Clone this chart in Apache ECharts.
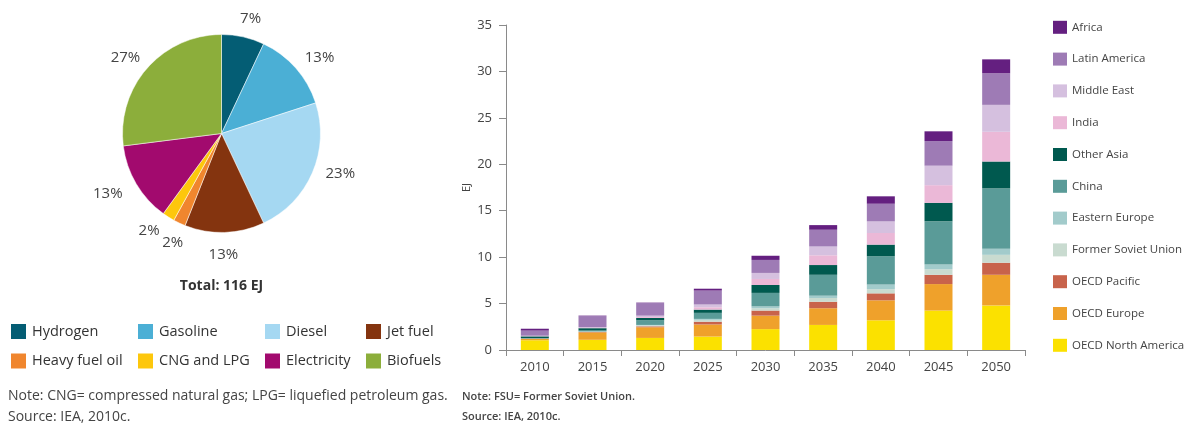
<!DOCTYPE html>
<html>
<head>
<meta charset="utf-8">
<script src="https://cdn.jsdelivr.net/npm/echarts@6/dist/echarts.min.js"></script>
<style>
  html, body { margin: 0; padding: 0; background: #ffffff; }
  #chart { width: 1195px; height: 426px; }
</style>
</head>
<body>
<div id="chart"></div>
<script>
// ---------- Data: left pie (share of transport fuel, 2050) ----------
const fuels = ['Hydrogen', 'Gasoline', 'Diesel', 'Jet fuel', 'Heavy fuel oil', 'CNG and LPG', 'Electricity', 'Biofuels'];
const fuelShares = [7, 13, 23, 13, 2, 2, 13, 27];
const pieTotalLabel = 'Total: 116 EJ';

// ---------- Data: right stacked bars (EJ) ----------
const years = ['2010', '2015', '2020', '2025', '2030', '2035', '2040', '2045', '2050'];
const oecdNorthAmerica  = [1.05, 1.10, 1.30, 1.45, 2.25, 2.70, 3.20, 4.25, 4.80];
const oecdEurope        = [0.15, 0.80, 1.15, 1.30, 1.45, 1.80, 2.15, 2.85, 3.30];
const oecdPacific       = [0.02, 0.05, 0.10, 0.30, 0.55, 0.70, 0.75, 1.00, 1.30];
const formerSovietUnion = [0.01, 0.03, 0.10, 0.20, 0.25, 0.40, 0.45, 0.60, 0.85];
const easternEurope     = [0.01, 0.02, 0.05, 0.10, 0.20, 0.25, 0.50, 0.50, 0.65];
const china             = [0.03, 0.10, 0.50, 0.65, 1.45, 2.25, 3.05, 4.65, 6.50];
const otherAsia         = [0.20, 0.25, 0.25, 0.35, 0.85, 1.05, 1.25, 2.00, 2.90];
const india             = [0.03, 0.05, 0.10, 0.25, 0.65, 1.05, 1.25, 1.90, 3.20];
const middleEast        = [0.04, 0.05, 0.15, 0.30, 0.65, 0.95, 1.25, 2.10, 2.90];
const latinAmerica      = [0.55, 1.20, 1.35, 1.50, 1.40, 1.80, 1.90, 2.65, 3.40];
const africa            = [0.20, 0.05, 0.05, 0.20, 0.45, 0.50, 0.80, 1.05, 1.50];
const yTickLabels = ['0', '5', '10', '15', '20', '25', '30', '35'];

const regionNames = ['OECD North America', 'OECD Europe', 'OECD Pacific', 'Former Soviet Union', 'Eastern Europe',
  'China', 'Other Asia', 'India', 'Middle East', 'Latin America', 'Africa'];
const regionValues = [oecdNorthAmerica, oecdEurope, oecdPacific, formerSovietUnion, easternEurope,
  china, otherAsia, india, middleEast, latinAmerica, africa];

// ---------- Styles ----------
const fuelColors = ['#045d74', '#4bafd5', '#a5d8f2', '#84340f', '#f0862e', '#fdc70c', '#a20a6e', '#8cae3b'];
const regionColors = ['#fbe100', '#efa12b', '#c8634b', '#c9dbd0', '#a2cbcb',
  '#5a9b98', '#00594f', '#ebb8d7', '#d5c0df', '#9e7bb5', '#641f80'];
const pieLabelNudge = [[2, 6], [5, 6], [5, -9], [-2, -3], [4, -3], [-6, -7], [-7, -3], [-3, 6]];
const FONT = 'Open Sans';
const axisGrey = '#8a8a8a';

const chart = echarts.init(document.getElementById('chart'), null, { renderer: 'canvas' });

const pieLegendCols = [
  { left: 9,   names: [fuels[0], fuels[4]] },
  { left: 136, names: [fuels[1], fuels[5]] },
  { left: 263, names: [fuels[2], fuels[6]] },
  { left: 364, names: [fuels[3], fuels[7]] }
];

const legends = pieLegendCols.map(col => ({
  orient: 'vertical',
  left: col.left,
  top: 322,
  padding: 0,
  icon: 'rect',
  itemWidth: 17,
  itemHeight: 17,
  itemGap: 10.6,
  selectedMode: false,
  data: col.names,
  textStyle: { fontFamily: FONT, fontSize: 14.5, color: '#333' }
}));

legends.push({
  orient: 'vertical',
  left: 1053,
  top: 20.8,
  padding: 0,
  icon: 'rect',
  itemWidth: 14,
  itemHeight: 13,
  itemGap: 18.8,
  selectedMode: false,
  data: regionNames.slice().reverse(),
  textStyle: { fontFamily: FONT, fontSize: 11.5, color: '#444' }
});

const barSeries = regionNames.map((name, i) => ({
  name: name,
  type: 'bar',
  stack: 'total',
  barWidth: 28,
  data: regionValues[i],
  itemStyle: { color: regionColors[i] },
  emphasis: { disabled: true }
}));

const option = {
  animation: false,
  textStyle: { fontFamily: FONT },
  title: [
    { text: pieTotalLabel, left: 221.5, top: 279, textAlign: 'center', padding: 0,
      textStyle: { fontFamily: FONT, fontSize: 14, fontWeight: 'bold', color: '#333' } },
    { text: 'Note: CNG= compressed natural gas; LPG= liquefied petroleum gas.', left: 8, top: 389.5, padding: 0,
      textStyle: { fontFamily: FONT, fontSize: 14, fontWeight: 'normal', color: '#444' } },
    { text: 'Source: IEA, 2010c.', left: 8, top: 410, padding: 0,
      textStyle: { fontFamily: FONT, fontSize: 14, fontWeight: 'normal', color: '#444' } },
    { text: 'Note: FSU= Former Soviet Union.', left: 462, top: 391, padding: 0,
      textStyle: { fontFamily: FONT, fontSize: 11, fontWeight: 600, color: '#444' } },
    { text: 'Source: IEA, 2010c.', left: 462, top: 411, padding: 0,
      textStyle: { fontFamily: FONT, fontSize: 11, fontWeight: 600, color: '#444' } }
  ],
  legend: legends,
  grid: { left: 506, right: 170, top: 25, bottom: 76, containLabel: false },
  xAxis: {
    type: 'category',
    data: years,
    axisLine: { show: true, lineStyle: { color: axisGrey, width: 1 } },
    axisTick: { show: true, length: 6, lineStyle: { color: axisGrey } },
    axisLabel: { fontFamily: FONT, fontSize: 13, color: '#444', margin: 11 },
    splitLine: { show: false }
  },
  yAxis: {
    type: 'value',
    min: 0,
    max: 35,
    interval: 5,
    name: 'EJ',
    nameLocation: 'middle',
    nameGap: 34,
    nameTextStyle: { fontFamily: FONT, fontSize: 11, color: '#444' },
    axisLine: { show: true, lineStyle: { color: axisGrey, width: 1 } },
    axisTick: { show: true, length: 7, lineStyle: { color: axisGrey } },
    axisLabel: {
      fontFamily: FONT, fontSize: 13, color: '#444', margin: 14,
      formatter: v => yTickLabels[Math.round(v / 5)] ?? String(v)
    },
    splitLine: { show: false }
  },
  series: [
    {
      name: 'fuels',
      type: 'pie',
      center: [221.5, 133.5],
      radius: [0, 99],
      startAngle: 90,
      clockwise: true,
      silent: true,
      label: { show: false },
      labelLine: { show: false },
      itemStyle: { borderColor: '#ffffff', borderWidth: 0.5 },
      data: fuels.map((n, i) => ({ name: n, value: fuelShares[i], itemStyle: { color: fuelColors[i] } }))
    },
    {
      name: 'fuelLabels',
      type: 'pie',
      center: [221.5, 133.5],
      radius: [110, 132],
      startAngle: 90,
      clockwise: true,
      silent: true,
      itemStyle: { color: 'rgba(0,0,0,0)' },
      label: {
        show: true, position: 'inside', rotate: 0,
        formatter: p => p.value + '%',
        fontFamily: FONT, fontSize: 15, color: '#444'
      },
      labelLine: { show: false },
      labelLayout: p => ({ dx: pieLabelNudge[p.dataIndex][0], dy: pieLabelNudge[p.dataIndex][1] }),
      data: fuels.map((n, i) => ({ name: n, value: fuelShares[i] }))
    }
  ].concat(barSeries)
};

chart.setOption(option);
</script>
</body>
</html>
